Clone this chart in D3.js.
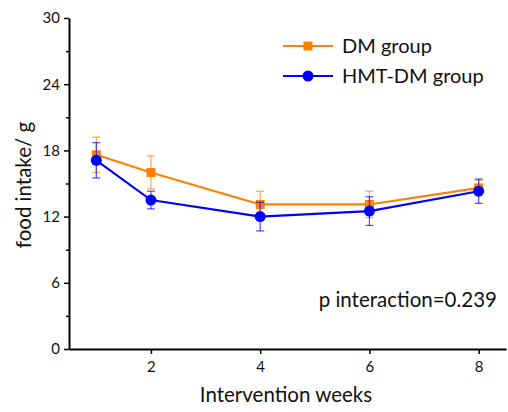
<!DOCTYPE html>
<html>
<head>
<meta charset="utf-8">
<script src="https://cdn.jsdelivr.net/npm/d3@7"></script>
<style>
body { margin: 0; background: #fff; }
text { font-family: Lato, "Open Sans", sans-serif; fill: #111; }
</style>
</head>
<body>
<svg id="chart" width="508" height="412"></svg>
<script>
const weeks = [1, 2, 4, 6, 8];
const dm = [17.6, 16.0, 13.1, 13.1, 14.6];
const dmErr = [1.6, 1.5, 1.2, 1.2, 0.7];
const hmt = [17.1, 13.5, 12.0, 12.5, 14.3];
const hmtErr = [1.6, 0.8, 1.3, 1.3, 1.1];
const xTicks = [2, 4, 6, 8];
const yTicks = [0, 6, 12, 18, 24, 30];
const yMinor = [3, 9, 15, 21, 27];

const svg = d3.select("#chart");
const g = svg.append("g");

const x = d3.scaleLinear().domain([0.5, 8.5]).range([69, 506]);
const y = d3.scaleLinear().domain([0, 30]).range([349, 18]);

// axes
g.append("g")
    .attr("transform", "translate(69,0)")
    .call(d3.axisLeft(y).tickValues(yTicks).tickSize(5).tickPadding(4).tickSizeOuter(0));
g.append("g")
    .attr("transform", "translate(69,0)")
    .call(d3.axisLeft(y).tickValues(yMinor).tickSize(3).tickFormat("").tickSizeOuter(0))
    .select(".domain").remove();
g.append("g")
    .attr("transform", "translate(0,349)")
    .call(d3.axisBottom(x).tickValues(xTicks).tickSize(5).tickPadding(7).tickSizeOuter(0));

g.selectAll(".domain").attr("stroke", "#000").attr("stroke-width", 2);
g.selectAll(".tick line").attr("stroke", "#000").attr("stroke-width", 1.5);
g.selectAll(".tick text").attr("font-size", 15).attr("font-family", "Lato, 'Open Sans', sans-serif").attr("fill", "#111");

// axis titles
g.append("text")
    .text("Intervention weeks")
    .attr("x", 286)
    .attr("y", 402)
    .attr("text-anchor", "middle")
    .attr("font-size", 20.5);
g.append("text")
    .text("food intake/ g")
    .attr("transform", `translate(31,185) rotate(-90)`)
    .attr("text-anchor", "middle")
    .attr("font-size", 20.5);

function draw_series(vals, errs, color, shape) {
    const pts = weeks.map((w, i) => ({ w: w, v: vals[i], e: errs[i] }));
    // error bars
    pts.forEach(d => {
        g.append("line")
            .attr("x1", x(d.w)).attr("x2", x(d.w))
            .attr("y1", y(d.v + d.e)).attr("y2", y(d.v - d.e))
            .attr("stroke", color).attr("stroke-width", 1.2).attr("opacity", 0.7);
        [d.v + d.e, d.v - d.e].forEach(c => {
            g.append("line")
                .attr("x1", x(d.w) - 4).attr("x2", x(d.w) + 4)
                .attr("y1", y(c)).attr("y2", y(c))
                .attr("stroke", color).attr("stroke-width", 1.2).attr("opacity", 0.7);
        });
    });
    const line = d3.line().x(d => x(d.w)).y(d => y(d.v));
    g.append("path")
        .attr("d", line(pts))
        .attr("fill", "none")
        .attr("stroke", color)
        .attr("stroke-width", 2.2);
    pts.forEach(d => draw_marker(x(d.w), y(d.v), color, shape));
}

function draw_marker(cx, cy, color, shape) {
    if (shape === "square") {
        g.append("rect")
            .attr("x", cx - 4.5).attr("y", cy - 4.5)
            .attr("width", 9).attr("height", 9)
            .attr("fill", color);
    } else {
        g.append("circle")
            .attr("cx", cx).attr("cy", cy).attr("r", 5.5)
            .attr("fill", color);
    }
}

draw_series(dm, dmErr, "#FF8000", "square");
draw_series(hmt, hmtErr, "#0000FF", "circle");

// legend
const legend = [
    { name: "DM group", color: "#FF8000", shape: "square", y: 46 },
    { name: "HMT-DM group", color: "#0000FF", shape: "circle", y: 76 }
];
legend.forEach(l => {
    g.append("line")
        .attr("x1", 283).attr("x2", 333)
        .attr("y1", l.y).attr("y2", l.y)
        .attr("stroke", l.color).attr("stroke-width", 2.2);
    draw_marker(308, l.y, l.color, l.shape);
    g.append("text")
        .text(l.name)
        .attr("x", 342)
        .attr("y", l.y + 7)
        .attr("font-size", 20);
});

g.append("text")
    .text("p interaction=0.239")
    .attr("x", 497)
    .attr("y", 307)
    .attr("text-anchor", "end")
    .attr("font-size", 20.5);
</script>
</body>
</html>
